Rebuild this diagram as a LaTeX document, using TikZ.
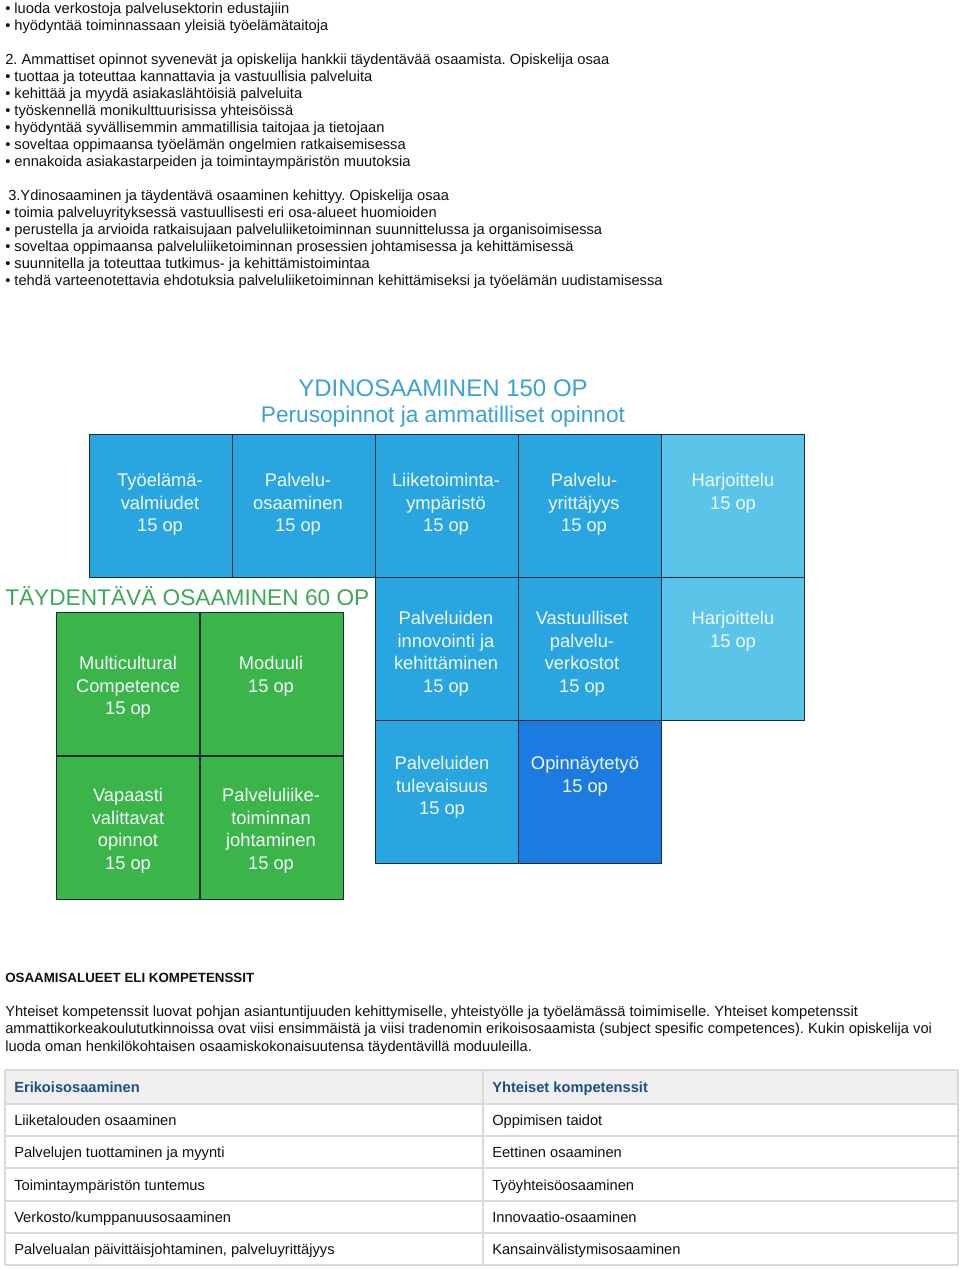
\documentclass[tikz,border=0pt]{standalone}
\usepackage{fontspec}
\setmainfont{Liberation Sans}
\frenchspacing
\definecolor{boxblue}{HTML}{29A6E0}
\definecolor{lightblue}{HTML}{5AC4E9}
\definecolor{darkblue}{HTML}{1B7BE0}
\definecolor{boxgreen}{HTML}{3BB44A}
\definecolor{titleblue}{HTML}{3BA2D2}
\definecolor{titlegreen}{HTML}{3DA85A}
\definecolor{cellborder}{HTML}{1C2B3C}
\definecolor{tablegray}{HTML}{EFEFEF}
\definecolor{tableline}{HTML}{D9D9D9}
\definecolor{headblue}{HTML}{1F4E86}
\definecolor{bodytext}{HTML}{111111}
\definecolor{celltxt}{HTML}{F2F8FC}
\begin{document}
\begin{tikzpicture}[x=0.75pt,y=-0.75pt,
  txt/.style={anchor=base west,inner sep=0pt,text=bodytext,font=\fontsize{11}{13}\selectfont},
  head/.style={anchor=base west,inner sep=0pt,text=headblue,font=\fontsize{11}{13}\selectfont\bfseries},
  cell/.style={draw=cellborder,line width=0.8pt,minimum width=107.25pt,minimum height=107.25pt,inner sep=0pt,anchor=north west},
  celltext/.style={text=celltxt,align=center,font=\fontsize{13.75}{16.9}\selectfont,anchor=north,inner sep=0pt},
]
\useasboundingbox (0,0) rectangle (960,1269);
\fill[white] (0,0) rectangle (960,1269);

% ---- top text
\node[txt] (l1) at (5,14) {• luoda verkostoja palvelusektorin edustajiin};
\node[txt] (l2) at (5,31) {• hyödyntää toiminnassaan yleisiä työelämätaitoja};
\node[txt] (l3) at (5,65) {2. Ammattiset opinnot syvenevät ja opiskelija hankkii täydentävää osaamista. Opiskelija osaa};
\node[txt] (l4) at (5,82) {• tuottaa ja toteuttaa kannattavia ja vastuullisia palveluita};
\node[txt] (l5) at (5,99) {• kehittää ja myydä asiakaslähtöisiä palveluita};
\node[txt] (l6) at (5,116) {• työskennellä monikulttuurisissa yhteisöissä};
\node[txt] (l7) at (5,133) {• hyödyntää syvällisemmin ammatillisia taitojaa ja tietojaan};
\node[txt] (l8) at (5,150) {• soveltaa oppimaansa työelämän ongelmien ratkaisemisessa};
\node[txt] (l9) at (5,167) {• ennakoida asiakastarpeiden ja toimintaympäristön muutoksia};
\node[txt] (l10) at (8,201) {3.Ydinosaaminen ja täydentävä osaaminen kehittyy. Opiskelija osaa};
\node[txt] (l11) at (5,218) {• toimia palveluyrityksessä vastuullisesti eri osa-alueet huomioiden};
\node[txt] (l12) at (5,235) {• perustella ja arvioida ratkaisujaan palveluliiketoiminnan suunnittelussa ja organisoimisessa};
\node[txt] (l13) at (5,252) {• soveltaa oppimaansa palveluliiketoiminnan prosessien johtamisessa ja kehittämisessä};
\node[txt] (l14) at (5,269) {• suunnitella ja toteuttaa tutkimus- ja kehittämistoimintaa};
\node[txt] (l15) at (5,286) {• tehdä varteenotettavia ehdotuksia palveluliiketoiminnan kehittämiseksi ja työelämän uudistamisessa};

% ---- diagram titles
\node[anchor=base,inner sep=0pt,text=titleblue,font=\fontsize{18}{20}\selectfont] (t1) at (443,396) {YDINOSAAMINEN 150 OP};
\node[anchor=base,inner sep=0pt,text=titleblue,font=\fontsize{17}{19}\selectfont] (t2) at (443,422) {Perusopinnot ja ammatilliset opinnot};
\node[anchor=base west,inner sep=0pt,text=titlegreen,font=\fontsize{17}{19}\selectfont] (t3) at (5,605) {TÄYDENTÄVÄ OSAAMINEN 60 OP};

% ---- blue row 1
\node[cell,fill=boxblue] (b11) at (89,434) {};
\node[cell,fill=boxblue] (b12) at (232,434) {};
\node[cell,fill=boxblue] (b13) at (375,434) {};
\node[cell,fill=boxblue] (b14) at (518,434) {};
\node[cell,fill=lightblue] (b15) at (661,434) {};
% ---- blue row 2
\node[cell,fill=boxblue] (b23) at (375,577) {};
\node[cell,fill=boxblue] (b24) at (518,577) {};
\node[cell,fill=lightblue] (b25) at (661,577) {};
% ---- blue row 3
\node[cell,fill=boxblue] (b33) at (375,720) {};
\node[cell,fill=darkblue] (b34) at (518,720) {};
% ---- green
\node[cell,fill=boxgreen] (g11) at (56,612) {};
\node[cell,fill=boxgreen] (g12) at (200,612) {};
\node[cell,fill=boxgreen] (g21) at (56,756) {};
\node[cell,fill=boxgreen] (g22) at (200,756) {};

% ---- cell texts
\node[celltext] (x11) at (160,473) {Työelämä-\\valmiudet\\15 op};
\node[celltext] (x12) at (298,473) {Palvelu-\\osaaminen\\15 op};
\node[celltext] (x13) at (446,473) {Liiketoiminta-\\ympäristö\\15 op};
\node[celltext] (x14) at (584,473) {Palvelu-\\yrittäjyys\\15 op};
\node[celltext] (x15) at (733,473) {Harjoittelu\\15 op};
\node[celltext] (x23) at (446,611) {Palveluiden\\innovointi ja\\kehittäminen\\15 op};
\node[celltext] (x24) at (582,611) {Vastuulliset\\palvelu-\\verkostot\\15 op};
\node[celltext] (x25) at (733,611) {Harjoittelu\\15 op};
\node[celltext] (x33) at (442,756) {Palveluiden\\tulevaisuus\\15 op};
\node[celltext] (x34) at (585,756) {Opinnäytetyö\\15 op};
\node[celltext] (y11) at (128,656) {Multicultural\\Competence\\15 op};
\node[celltext] (y12) at (271,656) {Moduuli\\15 op};
\node[celltext] (y21) at (128,788) {Vapaasti\\valittavat\\opinnot\\15 op};
\node[celltext] (y22) at (271,788) {Palveluliike-\\toiminnan\\johtaminen\\15 op};

% ---- bottom text
\node[anchor=base west,inner sep=0pt,text=bodytext,font=\fontsize{10}{12}\selectfont\bfseries] (h1) at (5,982) {OSAAMISALUEET ELI KOMPETENSSIT};
\node[txt] (p1) at (5,1016) {Yhteiset kompetenssit luovat pohjan asiantuntijuuden kehittymiselle, yhteistyölle ja työelämässä toimimiselle. Yhteiset kompetenssit};
\node[txt] (p2) at (5,1033) {ammattikorkeakoulututkinnoissa ovat viisi ensimmäistä ja viisi tradenomin erikoisosaamista (subject spesific competences). Kukin opiskelija voi};
\node[txt] (p3) at (5,1051) {luoda oman henkilökohtaisen osaamiskokonaisuutensa täydentävillä moduuleilla.};

% ---- table
\fill[tablegray] (5,1070) rectangle (958,1104);
\foreach \yy in {1070,1104,1136,1168,1201,1233,1265}
  \draw[tableline,line width=1.5pt] (5,\yy) -- (958,\yy);
\draw[tableline,line width=1.5pt] (5,1070) -- (5,1265);
\draw[tableline,line width=1.5pt] (483,1070) -- (483,1265);
\draw[tableline,line width=1.5pt] (958,1070) -- (958,1265);

\node[head] (th1) at (14,1092) {Erikoisosaaminen};
\node[head] (th2) at (492,1092) {Yhteiset kompetenssit};
\node[txt] (a1) at (14,1125) {Liiketalouden osaaminen};
\node[txt] (a2) at (14,1157) {Palvelujen tuottaminen ja myynti};
\node[txt] (a3) at (14,1190) {Toimintaympäristön tuntemus};
\node[txt] (a4) at (14,1222) {Verkosto/kumppanuusosaaminen};
\node[txt] (a5) at (14,1254) {Palvelualan päivittäisjohtaminen, palveluyrittäjyys};
\node[txt] (c1) at (492,1125) {Oppimisen taidot};
\node[txt] (c2) at (492,1157) {Eettinen osaaminen};
\node[txt] (c3) at (492,1190) {Työyhteisöosaaminen};
\node[txt] (c4) at (492,1222) {Innovaatio-osaaminen};
\node[txt] (c5) at (492,1254) {Kansainvälistymisosaaminen};
\end{tikzpicture}
\end{document}
